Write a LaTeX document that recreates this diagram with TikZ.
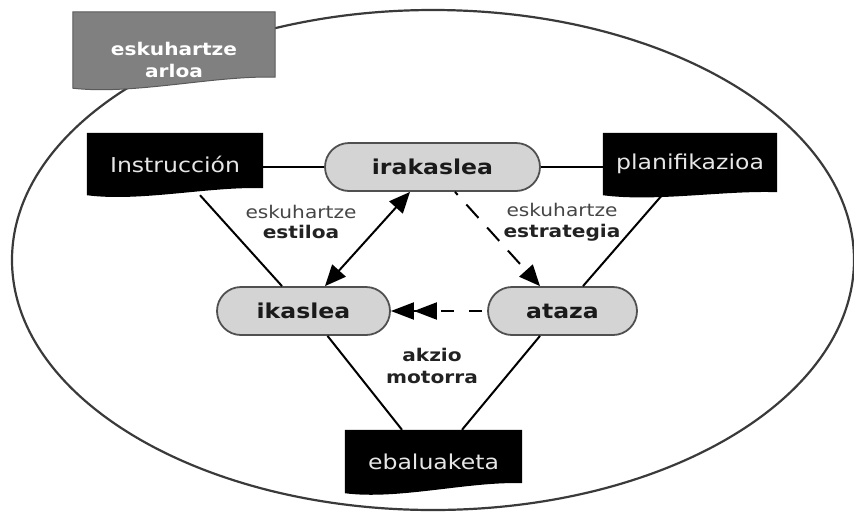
\documentclass[tikz,border=0pt]{standalone}
\usepackage{fontspec}
\setmainfont[FakeStretch=1.15]{DejaVu Sans}
\usetikzlibrary{arrows.meta,backgrounds,calc}
\definecolor{pillfill}{HTML}{D4D4D4}
\definecolor{pillline}{HTML}{505050}
\definecolor{pilltext}{HTML}{1A1A1A}
\definecolor{lbltext}{HTML}{454545}
\definecolor{lblbold}{HTML}{222222}
\definecolor{arloafill}{HTML}{808080}
\definecolor{arloaline}{HTML}{5A5A5A}
\definecolor{ellline}{HTML}{3A3A3A}
\definecolor{bannertext}{HTML}{E6E6E6}
\newcommand\drawbanner[4]{%
  \path[#2] (#1.north west) -- (#1.north east) -- ([yshift=#3pt]#1.south east)
    .. controls +(-0.3*#4,-2) and +(0.3*#4,7) .. (#1.south west) -- cycle;}
\begin{document}
\begin{tikzpicture}[x=1pt,y=-1pt,
  bannerbox/.style={draw=none, inner sep=0pt, text=bannertext, font=\fontsize{20.5}{24}\selectfont},
  pill/.style={draw=pillline, fill=pillfill, line width=1.8pt, rounded corners=24pt, minimum height=48pt, inner sep=0pt, font=\fontsize{20.5}{24}\selectfont\bfseries, text=pilltext},
  lbl/.style={align=center, font=\fontsize{17.5}{20.5}\selectfont, text=lbltext, inner sep=0pt},
  conn/.style={line width=2pt, draw=black}
]
\useasboundingbox (0,0) rectangle (854,515);

% pill nodes
\node[pill, minimum width=215pt] (irak) at (432.5,167) {irakaslea};
\node[pill, minimum width=173pt] (ikas) at (303.5,311) {ikaslea};
\node[pill, minimum width=149pt] (ataza) at (562.5,311) {ataza};

% banner nodes
\node[bannerbox, minimum width=176pt, minimum height=62pt] (instr) at (175,164) {Instrucción};
\node[bannerbox, minimum width=174pt, minimum height=62pt] (plan) at (690,164) {planifikazioa};
\node[bannerbox, minimum width=177pt, minimum height=63pt] (ebal) at (433.5,461.5) {ebaluaketa};
\node[draw=none, minimum width=202pt, minimum height=76pt, inner sep=0pt] (arloa) at (174,50) {};
\node[align=center, inner sep=0pt, text=white, font=\fontsize{17.5}{22}\selectfont\bfseries] (arloatxt) at (174,60) {eskuhartze\\arloa};

% labels
\node[lbl] (estilo) at (301,222) {eskuhartze\\\textcolor{lblbold}{\bfseries estiloa}};
\node[lbl] (estrat) at (562,222) {eskuhartze\\\textcolor{lblbold}{\bfseries estrategia}};
\node[lbl, font=\fontsize{17.5}{21.5}\selectfont\bfseries, text=lblbold] (akzio) at (432,366) {akzio\\motorra};

% background: ellipse and banner shapes
\begin{scope}[on background layer]
  \draw[line width=2.2pt, draw=ellline] (433,260) ellipse [x radius=421, y radius=250];
  \drawbanner{arloa}{fill=arloafill, draw=arloaline, line width=1pt}{11}{202}
  \drawbanner{instr}{fill=black}{7}{176}
  \drawbanner{plan}{fill=black}{3}{174}
  \drawbanner{ebal}{fill=black}{10}{177}
\end{scope}

% connectors
\draw[conn] (irak.west -| instr.east) -- (irak.west);
\draw[conn] (irak.east) -- (irak.east -| plan.west);
\draw[conn] ([xshift=25pt]instr.south) -- ([xshift=-21.5pt]ikas.north);
\draw[conn] ([xshift=-28pt]plan.south) -- ([xshift=20.5pt]ataza.north);
\draw[conn] ([xshift=24pt]ikas.south) -- ([xshift=-31.5pt]ebal.north);
\draw[conn] ([xshift=-22.5pt]ataza.south) -- ([xshift=28.5pt]ebal.north);

% arrows
\draw[conn, {Triangle[length=21pt,width=18pt]}-{Triangle[length=21pt,width=18pt]}] ([xshift=-22.5pt]irak.south) -- ([xshift=21.5pt]ikas.north);
\draw[conn, dash pattern=on 18pt off 13pt, dash phase=14pt, -{Triangle[length=21pt,width=18pt]}] ([xshift=22.5pt]irak.south) -- ([xshift=-22.5pt]ataza.north);
\draw[conn, dash pattern=on 13pt off 15pt, dash phase=23pt, -{Triangle[length=23pt,width=17pt] Triangle[length=23pt,width=17pt]}] (ataza.west) -- (ikas.east);
\end{tikzpicture}
\end{document}
